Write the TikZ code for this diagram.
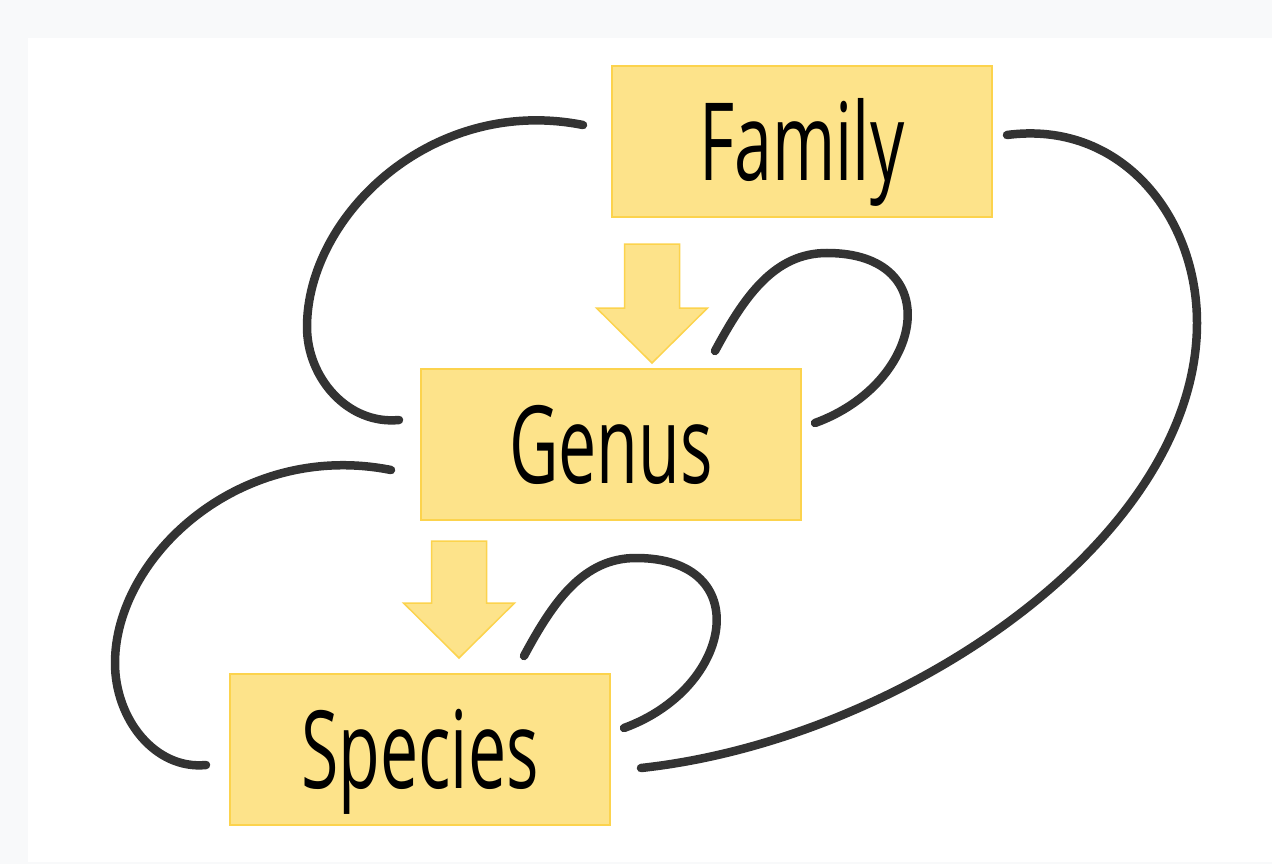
\documentclass[tikz,border=0pt]{standalone}
\usepackage{fontspec}
\newfontfamily\rankfont{Open Sans}[FakeStretch=0.63]
\definecolor{pagegray}{HTML}{F8F9FA}
\definecolor{boxfill}{HTML}{FDE38A}
\definecolor{boxline}{HTML}{FCD34D}
\definecolor{linkgray}{HTML}{333333}
\begin{document}
\begin{tikzpicture}[x=1pt,y=-1pt]
    \tikzstyle{rank} = [rectangle, draw=boxline, fill=boxfill, line width=2pt, minimum width=380pt, minimum height=151pt, inner sep=0pt, outer sep=0pt, text height=77pt, text depth=0pt, font=\rankfont\fontsize{108}{120}\selectfont]
    \tikzstyle{blockarrow} = [draw=boxline, fill=boxfill, line width=1.5pt, line join=miter]
    \tikzstyle{link} = [draw=linkgray, line width=8.5pt, line cap=round]

    \useasboundingbox (0,0) rectangle (1272,864);
    \fill[pagegray] (0,0) rectangle (1272,864);
    \fill[white] (28,38) rectangle (1272,862);

    % Family
    \node [rank] (family) at (802,141.5) {Family};

    % Genus
    \node [rank] (genus) at (611,444.5) {Genus};

    % Species
    \node [rank] (species) at (420,749.5) {Species};

    % down arrows
    \foreach \to/\dx/\gap/\len in {genus/41/6/119, species/39/16/117} {
        \coordinate (tip) at ([shift={(\dx,-\gap)}]\to.north);
        \draw[blockarrow] (tip) -- ++(55.5,-55) -- ++(-28,0) -- ++(0,{-(\len-55)}) -- ++(-55,0) -- ++(0,{\len-55}) -- ++(-28,0) -- cycle;
    }

    % Family to Genus
    \draw[link] ([shift={(-29,-16.5)}]family.west) .. controls (432,95) and (307,216) .. (307,327)
        .. controls (307,378) and (348,425) .. ([shift={(-22,-24.5)}]genus.west);

    % Genus to Species
    \draw[link] ([shift={(-30,25.5)}]genus.west) .. controls (240,440) and (115,557) .. (115,663)
        .. controls (115,719) and (155,770) .. ([shift={(-24,15.5)}]species.west);

    % Family to Species
    \draw[link] ([shift={(15,-6.5)}]family.east) .. controls (1120,120) and (1197,215) .. (1197,323)
        .. controls (1197,540) and (900,740) .. ([shift={(31,18.5)}]species.east);

    % self loops
    \foreach \n in {genus,species}
        \draw[link] ([shift={(104,-93.5)}]\n.center) .. controls ([shift={(134,-149.5)}]\n.center) and ([shift={(164,-191.5)}]\n.center) .. ([shift={(216,-191.5)}]\n.center)
            .. controls ([shift={(336,-191.5)}]\n.center) and ([shift={(314,-61.5)}]\n.center) .. ([shift={(204,-21.5)}]\n.center);

\end{tikzpicture}
\end{document}
